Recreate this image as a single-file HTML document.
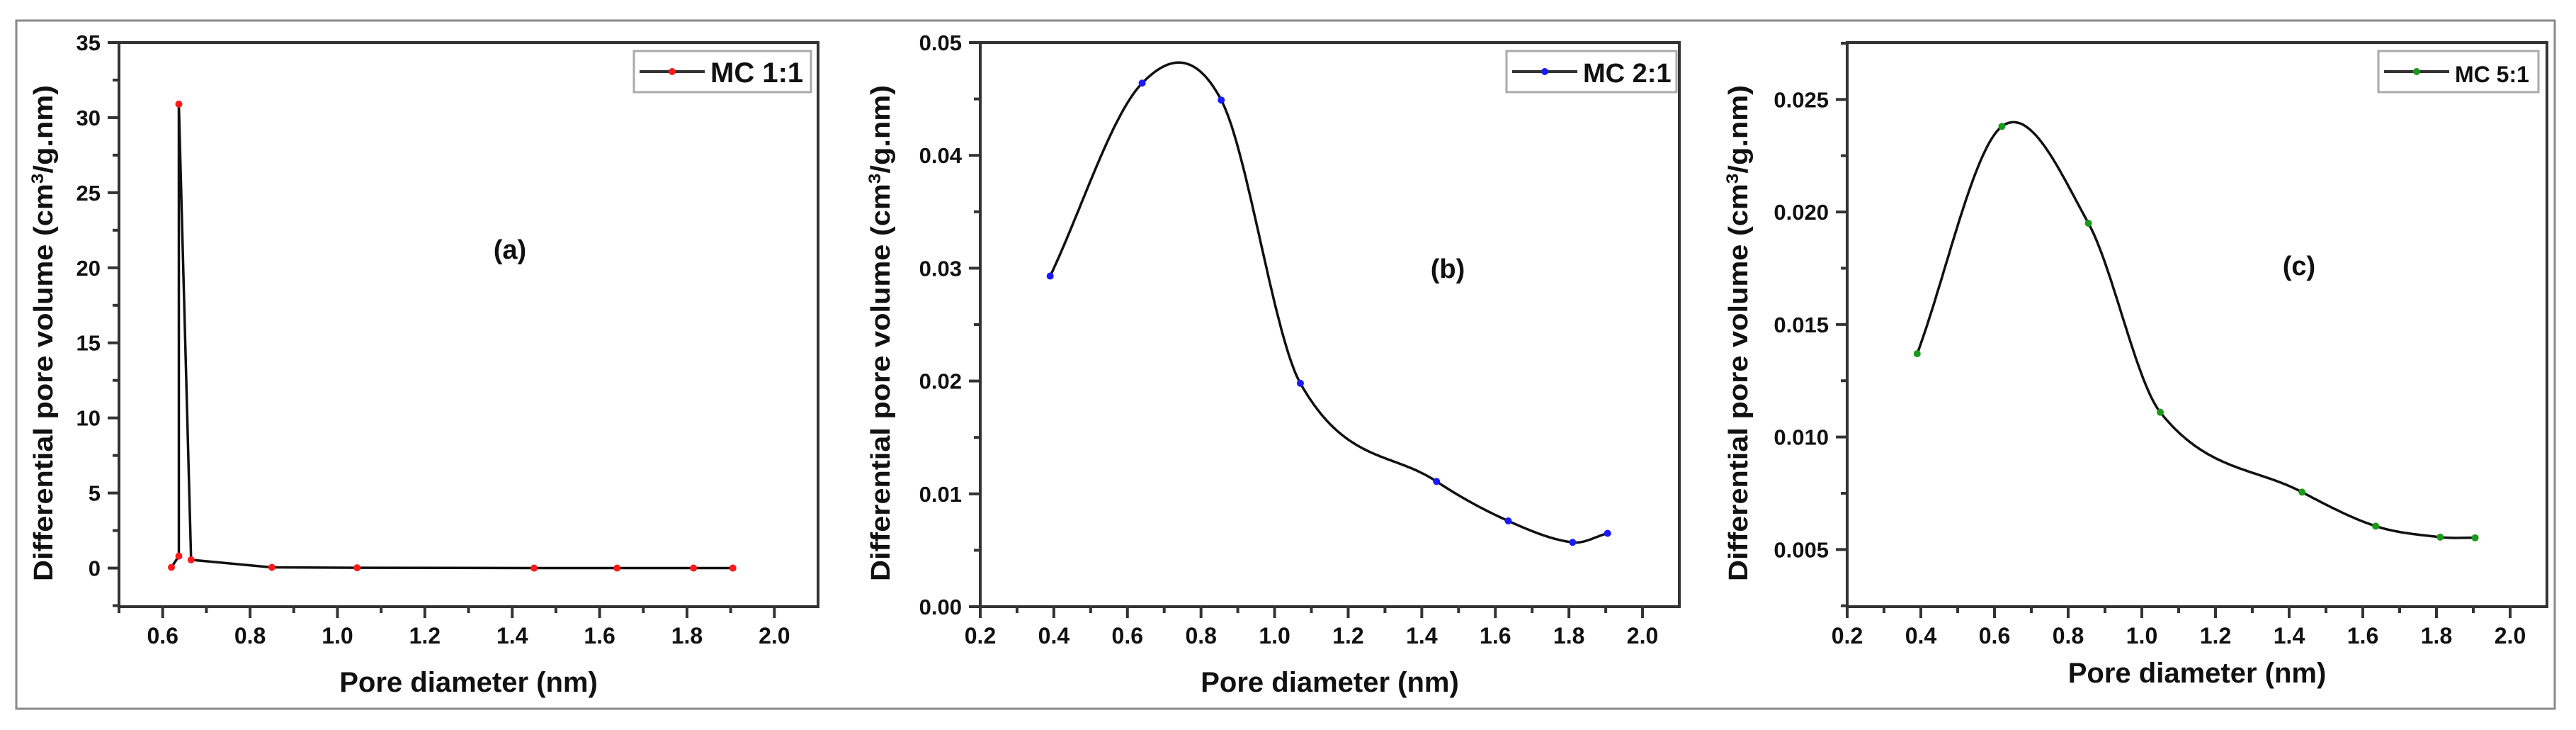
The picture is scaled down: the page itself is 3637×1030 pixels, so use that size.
<!DOCTYPE html>
<html><head><meta charset="utf-8"><style>
html,body{margin:0;padding:0;background:#fff;}
svg{display:block;font-family:"Liberation Sans",Arial,sans-serif;font-weight:bold;}
</style></head><body>
<svg id="fig" width="3637" height="1030" viewBox="0 0 3637 1030">
<rect x="23" y="29" width="3584" height="971" fill="none" stroke="#8a8a8a" stroke-width="3"/>
</svg>
<script>
// Panel (a) MC 1:1
const xA = [0.62, 0.637, 0.637, 0.665, 0.85, 1.045, 1.45, 1.64, 1.815, 1.905];
const yA = [0.05, 0.8, 30.9, 0.55, 0.05, 0.02, 0.0, 0.0, 0.0, 0.0];
const xTicksA = ["0.6","0.8","1.0","1.2","1.4","1.6","1.8","2.0"];
const yTicksA = ["0","5","10","15","20","25","30","35"];
// Panel (b) MC 2:1
const xB = [0.39, 0.64, 0.855, 1.07, 1.44, 1.635, 1.81, 1.905];
const yB = [0.0293, 0.0464, 0.0449, 0.0198, 0.0111, 0.0076, 0.0057, 0.0065];
const xTicksB = ["0.2","0.4","0.6","0.8","1.0","1.2","1.4","1.6","1.8","2.0"];
const yTicksB = ["0.00","0.01","0.02","0.03","0.04","0.05"];
// Panel (c) MC 5:1
const xC = [0.39, 0.62, 0.855, 1.05, 1.435, 1.635, 1.81, 1.905];
const yC = [0.0137, 0.0238, 0.0195, 0.0111, 0.00755, 0.00604, 0.00555, 0.00552];
const xTicksC = ["0.2","0.4","0.6","0.8","1.0","1.2","1.4","1.6","1.8","2.0"];
const yTicksC = ["0.005","0.010","0.015","0.020","0.025"];

const NS = "http://www.w3.org/2000/svg";
const svg = document.getElementById("fig");
function mk(tag, attrs, parent) {
  const e = document.createElementNS(NS, tag);
  for (const k in attrs) e.setAttribute(k, attrs[k]);
  (parent || svg).appendChild(e);
  return e;
}
function hermite(xs, ys) {
  const n = xs.length, m = [];
  for (let i = 0; i < n; i++) {
    if (i === 0) m.push((ys[1]-ys[0])/(xs[1]-xs[0]));
    else if (i === n-1) m.push((ys[n-1]-ys[n-2])/(xs[n-1]-xs[n-2]));
    else m.push((ys[i+1]-ys[i-1])/(xs[i+1]-xs[i-1]));
  }
  return function(x) {
    let i = 0; while (i < n - 2 && x > xs[i+1]) i++;
    const h = xs[i+1]-xs[i], t = (x - xs[i]) / h, t2 = t*t, t3 = t2*t;
    return (2*t3-3*t2+1)*ys[i] + (t3-2*t2+t)*h*m[i] + (-2*t3+3*t2)*ys[i+1] + (t3-t2)*h*m[i+1];
  };
}
function panel(o) {
  const g = mk("g", {});
  
  
  const L = o.L, R = o.R, T = 60, B = 856;
  const sx = v => L + (v - o.x0) / (o.x1 - o.x0) * (R - L);
  const sy = v => B - (v - o.y0) / (o.y1 - o.y0) * (B - T);
  mk("rect", {x: L, y: T, width: R - L, height: B - T, fill: "none", stroke: "#333", "stroke-width": 4}, g);
  for (let k = 0; k < o.xTicks.length; k++) {
    const v = parseFloat(o.xTicks[k]); const X = sx(v);
    mk("line", {x1: X, y1: B, x2: X, y2: B + 16, stroke: "#333", "stroke-width": 4}, g);
    const t = mk("text", {x: X, y: 908, "text-anchor": "middle", "font-size": 32, fill: "#111"}, g);
    t.textContent = o.xTicks[k];
    
    
    const m = v + 0.1;
    if (m < o.x1) mk("line", {x1: sx(m), y1: B, x2: sx(m), y2: B + 9, stroke: "#333", "stroke-width": 4}, g);
  }
  if (o.x0 < parseFloat(o.xTicks[0])) mk("line", {x1: sx(parseFloat(o.xTicks[0]) - 0.1), y1: B, x2: sx(parseFloat(o.xTicks[0]) - 0.1), y2: B + 9, stroke: "#333", "stroke-width": 4}, g);
  const ys = o.yTicks.map(parseFloat), step = ys[1] - ys[0];
  for (let k = 0; k < o.yTicks.length; k++) {
    const Y = sy(ys[k]);
    mk("line", {x1: L - 16, y1: Y, x2: L, y2: Y, stroke: "#333", "stroke-width": 4}, g);
    const t = mk("text", {x: L - 26, y: Y + 11, "text-anchor": "end", "font-size": 31, fill: "#111"}, g);
    t.textContent = o.yTicks[k];
    
    
  }
  for (let v = ys[0] - step / 2; v < o.y1; v += step) {
    if (v > o.y0) mk("line", {x1: L - 9, y1: sy(v), x2: L, y2: sy(v), stroke: "#333", "stroke-width": 4}, g);
  }
  let d = "";
  if (o.smooth) {
    const f = hermite(o.xs, o.ys);
    const xe = o.xs[o.xs.length - 1];
    for (let x = o.xs[0]; x < xe; x += 0.004) d += (d ? "L" : "M") + sx(x).toFixed(1) + "," + sy(f(x)).toFixed(1);
    d += "L" + sx(xe).toFixed(1) + "," + sy(o.ys[o.ys.length - 1]).toFixed(1);
  } else {
    o.xs.forEach((x, i) => d += (i ? "L" : "M") + sx(x).toFixed(1) + "," + sy(o.ys[i]).toFixed(1));
  }
  const p = mk("path", {d: d, fill: "none", stroke: "#111", "stroke-width": 3.5}, g);
  
  
  o.xs.forEach((x, i) => {
    const c = mk("circle", {cx: sx(x), cy: sy(o.ys[i]), r: 5, fill: o.color}, g);
    
    
  });
  const lg = mk("g", {}, g);
  
  
  mk("rect", {x: o.lx, y: 72, width: o.lw, height: 58, fill: "#fff", stroke: "#aaa", "stroke-width": 3}, lg);
  mk("line", {x1: o.lx + 8, y1: 101, x2: o.lx + 100, y2: 101, stroke: "#333", "stroke-width": 4}, lg);
  mk("circle", {cx: o.lx + 54, cy: 101, r: 5, fill: o.color}, lg);
  const lt = mk("text", {x: o.lx + 108, y: 116, "font-size": o.lfs, fill: "#111"}, lg);
  lt.textContent = o.label;
  const pl = mk("text", {x: o.px, y: o.py + 14, "text-anchor": "middle", "font-size": 38, fill: "#111"}, g);
  pl.textContent = o.letter;
  
  
  const xt = mk("text", {x: (L + R) / 2 + o.xtOff, y: o.xty, "text-anchor": "middle", "font-size": 40, fill: "#111"}, g);
  xt.textContent = "Pore diameter (nm)";
  
  
  const yt = mk("text", {x: 0, y: 0, "text-anchor": "middle", "font-size": 38, fill: "#111", transform: "translate(" + o.ytx + ",470) rotate(-90)", textLength: 700, lengthAdjust: "spacingAndGlyphs"}, g);
  
  
  yt.innerHTML = 'Differential pore volume (cm<tspan baseline-shift="super" font-size="24">3</tspan>/g.nm)';
}
panel({name: "panel-a", L: 168, R: 1155, x0: 0.5, x1: 2.1, y0: -2.57, y1: 35, xs: xA, ys: yA, xTicks: xTicksA, yTicks: yTicksA, smooth: false, color: "#ff1a1a", lx: 895, lw: 250, lfs: 40, label: "MC 1:1", letter: "(a)", px: 720, py: 351, xtOff: 0, xty: 976, ytx: 74});
panel({name: "panel-b", L: 1384, R: 2371, x0: 0.2, x1: 2.1, y0: 0, y1: 0.05, xs: xB, ys: yB, xTicks: xTicksB, yTicks: yTicksB, smooth: true, color: "#1a1aff", lx: 2127, lw: 240, lfs: 38, label: "MC 2:1", letter: "(b)", px: 2044, py: 378, xtOff: 0, xty: 976, ytx: 1256});
panel({name: "panel-c", L: 2608, R: 3596, x0: 0.2, x1: 2.1, y0: 0.00246, y1: 0.02753, xs: xC, ys: yC, xTicks: xTicksC, yTicks: yTicksC, smooth: true, color: "#1a9a1a", lx: 3358, lw: 226, lfs: 32, label: "MC 5:1", letter: "(c)", px: 3246, py: 374, xtOff: 0, xty: 963, ytx: 2467});
</script>
</body></html>
